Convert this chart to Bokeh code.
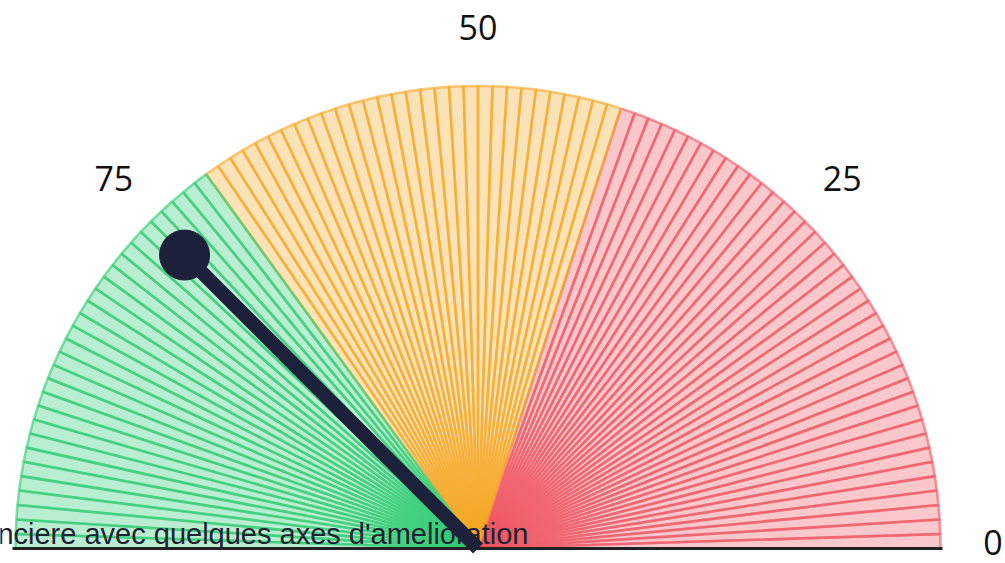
import math
from bokeh.plotting import figure
from bokeh.models import Range1d, ColumnDataSource
from bokeh.core.properties import value
from bokeh.embed import file_html
from bokeh.resources import INLINE

# ---- data ----
gauge_min = 0
gauge_max = 100
band_start = [0, 40, 70]
band_end = [40, 70, 100]
band_colors = ["#ef5560", "#f5a623", "#2ecc71"]
tick_values = [0, 25, 50, 75]
tick_labels = ["0", "25", "50", "75"]
needle_value = 75
caption = "Situation financiere avec quelques axes d'amelioration"

# ---- layout (pixel units) ----
W, H = 1005, 563
CX, CY = 477.5, 548.0       # gauge centre on screen
R = 462.5                   # gauge radius
LABEL_R = 515.0
NEEDLE_R = 415.0

p = figure(width=W, height=H, output_backend="svg", toolbar_location=None,
           x_range=Range1d(-CX, W - CX), y_range=Range1d(-(H - CY), CY),
           min_border=0, outline_line_color=None, background_fill_color="white",
           border_fill_color="white")
p.axis.visible = False
p.grid.visible = False
p.styles = {"position": "absolute", "left": "0px", "top": "0px"}

span = gauge_max - gauge_min


def ang(v):
    # 0 on the right, max on the left
    return math.pi * (v - gauge_min) / span


starts, ends, fills = [], [], []
for b0, b1, col in zip(band_start, band_end, band_colors):
    v = b0
    while v < b1:
        starts.append(ang(v))
        ends.append(ang(v + 1))
        fills.append(col)
        v += 1

src = ColumnDataSource(dict(x=[0] * len(starts), y=[0] * len(starts),
                            s=starts, e=ends, c=fills))
p.wedge(x="x", y="y", radius=R, start_angle="s", end_angle="e",
        direction="anticlock", source=src, fill_color="c", fill_alpha=0.33,
        line_color="c", line_alpha=0.6, line_width=2.6)

# base line
p.segment(x0=[-R - 3], y0=[0], x1=[R + 2], y1=[0], line_color="#222222",
          line_width=3)

# tick labels
lx = [LABEL_R * math.cos(ang(v)) for v in tick_values]
ly = [LABEL_R * math.sin(ang(v)) for v in tick_values]
p.text(x=lx, y=ly, text=tick_labels, text_align="center",
       text_baseline="middle", y_offset=-6, text_font=value("Open Sans"),
       text_font_size="34px", text_color="#111111")

# caption
p.text(x=[528 - CX], y=[CY - 533], text=[caption], text_align="right",
       text_baseline="alphabetic", text_font=value("Liberation Sans"),
       text_font_size="29px", text_color="#1e2235")

# needle
a = ang(needle_value)
nx, ny = NEEDLE_R * math.cos(a), NEEDLE_R * math.sin(a)
p.segment(x0=[0], y0=[0], x1=[nx], y1=[ny], line_color="#1c2139",
          line_width=14, line_cap="butt")
p.scatter(x=[nx], y=[ny], size=50, marker="circle", fill_color="#1c2139",
          line_color="#1c2139")

open("out.html", "w").write(file_html(p, INLINE))
